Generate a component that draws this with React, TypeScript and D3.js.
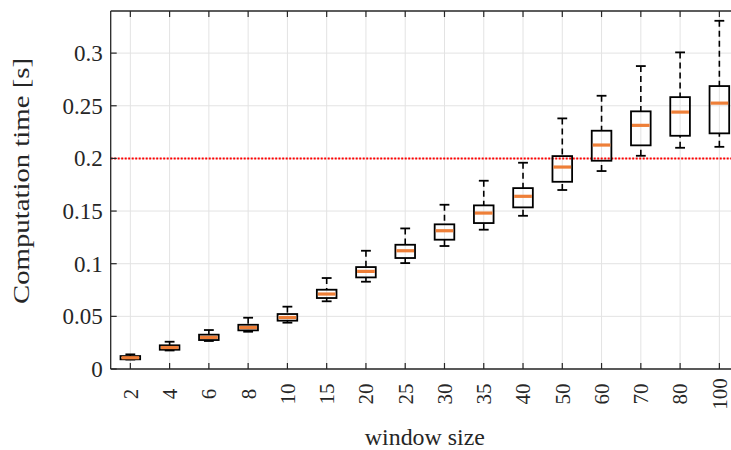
import React, { useEffect, useRef } from 'react';
import * as d3 from 'd3';

// window sizes on the x axis
const categories = ['2', '4', '6', '8', '10', '15', '20', '25', '30', '35', '40', '50', '60', '70', '80', '100'];

// box plot stats per window size (seconds)
const whiskerLow = [0.009, 0.0176, 0.0266, 0.0354, 0.044, 0.0643, 0.0829, 0.1006, 0.1168, 0.1323, 0.1455, 0.17, 0.188, 0.2025, 0.2101, 0.211];
const q1 = [0.0092, 0.0183, 0.0275, 0.0367, 0.0459, 0.0674, 0.087, 0.1054, 0.1228, 0.1386, 0.1535, 0.1778, 0.1978, 0.2124, 0.2215, 0.2238];
const medians = [0.0107, 0.0204, 0.03, 0.0394, 0.0489, 0.0712, 0.0927, 0.1123, 0.1313, 0.1481, 0.164, 0.1918, 0.2127, 0.2314, 0.244, 0.2525];
const q3 = [0.0123, 0.0225, 0.0326, 0.042, 0.0522, 0.0753, 0.0968, 0.118, 0.1374, 0.1554, 0.1718, 0.2022, 0.2263, 0.2447, 0.2582, 0.2687];
const whiskerHigh = [0.0139, 0.0259, 0.037, 0.0487, 0.0592, 0.0864, 0.1123, 0.1335, 0.156, 0.1788, 0.1959, 0.238, 0.2595, 0.2877, 0.3007, 0.3307];

const yTicks = [0, 0.05, 0.1, 0.15, 0.2, 0.25, 0.3];
const yTickLabels = ['0', '0.05', '0.1', '0.15', '0.2', '0.25', '0.3'];
const limitValue = 0.2;

const App = () => {
  const chartRef = useRef(null);

  useEffect(() => {
    const width = 731;
    const height = 450;
    const left = 110.7;
    const right = 739; // plot area runs past the picture edge
    const top = 11;
    const bottom = 369;
    const font = '"Liberation Serif", "Times New Roman", serif';
    const axisColor = '#262626';
    const gridColor = '#e3e3e3';
    const orange = '#ee7f38';

    const data = categories.map((c, i) => ({
      c,
      lo: whiskerLow[i],
      q1: q1[i],
      med: medians[i],
      q3: q3[i],
      hi: whiskerHigh[i],
    }));

    const svg = d3
      .select(chartRef.current)
      .append('svg')
      .attr('width', width)
      .attr('height', height)
      .style('position', 'absolute')
      .style('left', 0)
      .style('top', 0)
      .style('background', '#fff')
      .style('font-family', font);

    const x = d3.scaleBand().domain(categories).range([left, right]).padding(0);
    const y = d3.scaleLinear().domain([0, 0.34]).range([bottom, top]);
    const cx = (c) => x(c) + x.bandwidth() / 2;
    const boxW = x.bandwidth() * 0.5;
    const capW = x.bandwidth() * 0.25;

    // grid
    svg
      .append('g')
      .selectAll('line')
      .data(yTicks)
      .enter()
      .append('line')
      .attr('x1', left)
      .attr('x2', right)
      .attr('y1', (d) => y(d))
      .attr('y2', (d) => y(d))
      .attr('stroke', gridColor)
      .attr('stroke-width', 1);
    svg
      .append('g')
      .selectAll('line')
      .data(categories)
      .enter()
      .append('line')
      .attr('x1', (d) => cx(d))
      .attr('x2', (d) => cx(d))
      .attr('y1', top)
      .attr('y2', bottom)
      .attr('stroke', gridColor)
      .attr('stroke-width', 1);

    // red limit line
    svg
      .append('line')
      .attr('x1', left)
      .attr('x2', right)
      .attr('y1', y(limitValue))
      .attr('y2', y(limitValue))
      .attr('stroke', '#ff0000')
      .attr('stroke-width', 2)
      .attr('stroke-dasharray', '2 1.5');

    const boxes = svg.append('g').selectAll('g').data(data).enter().append('g');

    // whiskers (dashed, drawn from cap toward box)
    boxes
      .append('line')
      .attr('x1', (d) => cx(d.c))
      .attr('x2', (d) => cx(d.c))
      .attr('y1', (d) => y(d.hi))
      .attr('y2', (d) => y(d.q3))
      .attr('stroke', '#000')
      .attr('stroke-width', 1.6)
      .attr('stroke-dasharray', '6 4');
    boxes
      .append('line')
      .attr('x1', (d) => cx(d.c))
      .attr('x2', (d) => cx(d.c))
      .attr('y1', (d) => y(d.lo))
      .attr('y2', (d) => y(d.q1))
      .attr('stroke', '#000')
      .attr('stroke-width', 1.6)
      .attr('stroke-dasharray', '6 4');

    // caps
    boxes
      .append('line')
      .attr('x1', (d) => cx(d.c) - capW / 2)
      .attr('x2', (d) => cx(d.c) + capW / 2)
      .attr('y1', (d) => y(d.hi))
      .attr('y2', (d) => y(d.hi))
      .attr('stroke', '#000')
      .attr('stroke-width', 1.8);
    boxes
      .append('line')
      .attr('x1', (d) => cx(d.c) - capW / 2)
      .attr('x2', (d) => cx(d.c) + capW / 2)
      .attr('y1', (d) => y(d.lo))
      .attr('y2', (d) => y(d.lo))
      .attr('stroke', '#000')
      .attr('stroke-width', 1.8);

    // boxes
    boxes
      .append('rect')
      .attr('x', (d) => cx(d.c) - boxW / 2)
      .attr('width', boxW)
      .attr('y', (d) => y(d.q3))
      .attr('height', (d) => y(d.q1) - y(d.q3))
      .attr('fill', 'none')
      .attr('stroke', '#000')
      .attr('stroke-width', 1.8);

    // medians
    boxes
      .append('line')
      .attr('x1', (d) => cx(d.c) - boxW / 2 + 1)
      .attr('x2', (d) => cx(d.c) + boxW / 2 - 1)
      .attr('y1', (d) => y(d.med))
      .attr('y2', (d) => y(d.med))
      .attr('stroke', orange)
      .attr('stroke-width', 3.2);

    // axes frame
    svg.append('line').attr('x1', left).attr('x2', right).attr('y1', bottom).attr('y2', bottom).attr('stroke', axisColor).attr('stroke-width', 1.3);
    svg.append('line').attr('x1', left).attr('x2', right).attr('y1', top).attr('y2', top).attr('stroke', axisColor).attr('stroke-width', 1.3);
    svg.append('line').attr('x1', left).attr('x2', left).attr('y1', top).attr('y2', bottom).attr('stroke', axisColor).attr('stroke-width', 1.3);

    // inward ticks
    yTicks.forEach((t) => {
      svg.append('line').attr('x1', left).attr('x2', left + 6).attr('y1', y(t)).attr('y2', y(t)).attr('stroke', axisColor).attr('stroke-width', 1.2);
    });
    categories.forEach((c) => {
      svg.append('line').attr('x1', cx(c)).attr('x2', cx(c)).attr('y1', bottom).attr('y2', bottom - 6).attr('stroke', axisColor).attr('stroke-width', 1.2);
      svg.append('line').attr('x1', cx(c)).attr('x2', cx(c)).attr('y1', top).attr('y2', top + 6).attr('stroke', axisColor).attr('stroke-width', 1.2);
    });

    // y tick labels
    svg
      .append('g')
      .selectAll('text')
      .data(yTicks)
      .enter()
      .append('text')
      .attr('x', left - 8)
      .attr('y', (d) => y(d))
      .attr('dy', '0.35em')
      .attr('text-anchor', 'end')
      .style('font-family', font)
      .style('font-size', '23px')
      .attr('fill', axisColor)
      .text((d, i) => yTickLabels[i]);

    // x tick labels, rotated
    svg
      .append('g')
      .selectAll('text')
      .data(categories)
      .enter()
      .append('text')
      .attr('transform', (d) => `translate(${cx(d)},394) rotate(-90)`)
      .attr('dy', '0.35em')
      .attr('text-anchor', 'middle')
      .style('font-family', font)
      .style('font-size', '21px')
      .attr('fill', axisColor)
      .text((d) => d);

    // axis titles
    svg
      .append('text')
      .attr('x', (left + right) / 2)
      .attr('y', 445)
      .attr('text-anchor', 'middle')
      .attr('textLength', 120)
      .attr('lengthAdjust', 'spacingAndGlyphs')
      .style('font-family', font)
      .style('font-size', '23px')
      .attr('fill', axisColor)
      .text('window size');
    svg
      .append('text')
      .attr('transform', `translate(29,181) rotate(-90)`)
      .attr('text-anchor', 'middle')
      .attr('textLength', 246)
      .attr('lengthAdjust', 'spacingAndGlyphs')
      .style('font-family', font)
      .style('font-size', '24px')
      .attr('fill', axisColor)
      .text('Computation time [s]');

    return () => {
      d3.select(chartRef.current).selectAll('svg').remove();
    };
  }, []);

  return <div ref={chartRef}></div>;
};

export default App;
